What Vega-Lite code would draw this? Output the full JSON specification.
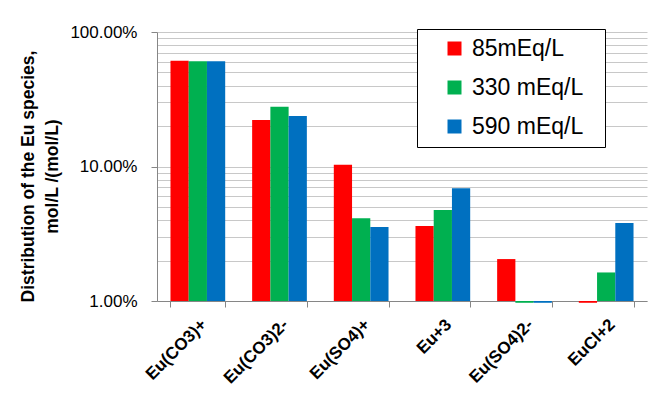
{
  "$schema": "https://vega.github.io/schema/vega-lite/v6.json",
  "width": 490,
  "height": 269,
  "autosize": "none",
  "padding": {"left": 157, "top": 32, "right": 9, "bottom": 97},
  "background": "white",
  "config": {"font": "Liberation Sans", "view": {"stroke": null}},
  "data": {
    "values": [
      {"species": "Eu(CO3)+", "conc": "85mEq/L", "value": 61.0},
      {"species": "Eu(CO3)+", "conc": "330 mEq/L", "value": 60.5},
      {"species": "Eu(CO3)+", "conc": "590 mEq/L", "value": 60.5},
      {"species": "Eu(CO3)2-", "conc": "85mEq/L", "value": 22.2},
      {"species": "Eu(CO3)2-", "conc": "330 mEq/L", "value": 27.8},
      {"species": "Eu(CO3)2-", "conc": "590 mEq/L", "value": 23.7},
      {"species": "Eu(SO4)+", "conc": "85mEq/L", "value": 10.3},
      {"species": "Eu(SO4)+", "conc": "330 mEq/L", "value": 4.12},
      {"species": "Eu(SO4)+", "conc": "590 mEq/L", "value": 3.55},
      {"species": "Eu+3", "conc": "85mEq/L", "value": 3.61},
      {"species": "Eu+3", "conc": "330 mEq/L", "value": 4.75},
      {"species": "Eu+3", "conc": "590 mEq/L", "value": 6.9},
      {"species": "Eu(SO4)2-", "conc": "85mEq/L", "value": 2.05},
      {"species": "Eu(SO4)2-", "conc": "330 mEq/L", "value": 0.97},
      {"species": "Eu(SO4)2-", "conc": "590 mEq/L", "value": 0.97},
      {"species": "EuCl+2", "conc": "85mEq/L", "value": 0.97},
      {"species": "EuCl+2", "conc": "330 mEq/L", "value": 1.63},
      {"species": "EuCl+2", "conc": "590 mEq/L", "value": 3.8}
    ]
  },
  "mark": {"type": "bar"},
  "encoding": {
    "x": {
      "field": "species",
      "type": "nominal",
      "sort": ["Eu(CO3)+", "Eu(CO3)2-", "Eu(SO4)+", "Eu+3", "Eu(SO4)2-", "EuCl+2"],
      "scale": {"paddingInner": 0.33, "paddingOuter": 0.165},
      "axis": {
        "title": null,
        "labelAngle": -45,
        "labelFontWeight": "bold",
        "labelFontSize": 17,
        "labelColor": "black",
        "labelPadding": 9,
        "domainColor": "#868686",
        "tickColor": "#868686",
        "tickSize": 6,
        "tickBand": "extent"
      }
    },
    "xOffset": {
      "field": "conc",
      "type": "nominal",
      "sort": ["85mEq/L", "330 mEq/L", "590 mEq/L"]
    },
    "y": {
      "field": "value",
      "type": "quantitative",
      "stack": null,
      "scale": {"type": "log", "domain": [1, 100], "nice": false},
      "axis": {
        "values": [1, 2, 3, 4, 5, 6, 7, 8, 9, 10, 20, 30, 40, 50, 60, 70, 80, 90, 100],
        "labelExpr": "indexof([1,10,100], datum.value) >= 0 ? format(datum.value/100, '.2%') : ''",
        "labelOverlap": false,
        "labelFontSize": 17,
        "labelColor": "black",
        "labelPadding": 14,
        "grid": true,
        "gridColor": "#c8c8c8",
        "domainColor": "#868686",
        "tickColor": {"condition": {"test": "indexof([1,10,100], datum.value) >= 0", "value": "#868686"}, "value": "transparent"},
        "tickSize": 6,
        "title": ["Distribution of the Eu species,", "mol/L /(mol/L)"],
        "titleFontSize": 17.5,
        "titleFontWeight": "bold",
        "titleColor": "black",
        "titleLineHeight": 24,
        "titleBaseline": "alphabetic",
        "titleX": -124,
        "titleY": 144
      }
    },
    "color": {
      "field": "conc",
      "type": "nominal",
      "sort": ["85mEq/L", "330 mEq/L", "590 mEq/L"],
      "scale": {"domain": ["85mEq/L", "330 mEq/L", "590 mEq/L"], "range": ["#FF0000", "#00B050", "#0070C0"]},
      "legend": {
        "orient": "none",
        "legendX": 260,
        "legendY": -3,
        "title": "\u00a0",
        "titleOrient": "right",
        "titlePadding": 14,
        "strokeColor": "black",
        "fillColor": "white",
        "padding": 8,
        "symbolType": "square",
        "symbolSize": 196,
        "symbolStrokeWidth": 0,
        "symbolOpacity": 1,
        "symbolOffset": 18,
        "labelFontSize": 23,
        "labelColor": "black",
        "labelOffset": 6,
        "rowPadding": 15
      }
    }
  }
}
